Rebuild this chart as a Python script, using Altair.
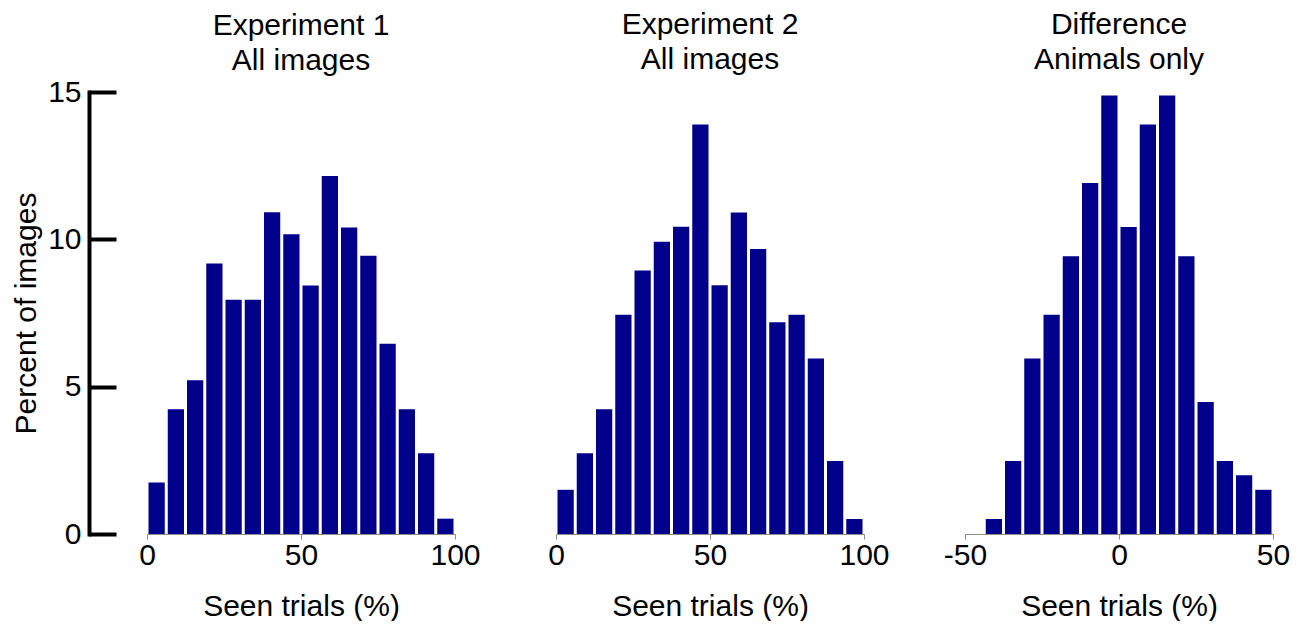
import altair as alt
import pandas as pd

# Bin edges (Seen trials %, 16 bins each)
exp_bin_start = [0, 6.25, 12.5, 18.75, 25, 31.25, 37.5, 43.75, 50, 56.25, 62.5, 68.75, 75, 81.25, 87.5, 93.75]
exp_bin_end = [6.25, 12.5, 18.75, 25, 31.25, 37.5, 43.75, 50, 56.25, 62.5, 68.75, 75, 81.25, 87.5, 93.75, 100]
diff_bin_start = [-50, -43.75, -37.5, -31.25, -25, -18.75, -12.5, -6.25, 0, 6.25, 12.5, 18.75, 25, 31.25, 37.5, 43.75]
diff_bin_end = [-43.75, -37.5, -31.25, -25, -18.75, -12.5, -6.25, 0, 6.25, 12.5, 18.75, 25, 31.25, 37.5, 43.75, 50]

# Percent of images per bin
exp1_pct = [1.75, 4.23, 5.22, 9.18, 7.95, 7.95, 10.92, 10.17, 8.43, 12.15, 10.40, 9.44, 6.46, 4.23, 2.74, 0.52]
exp2_pct = [1.50, 2.74, 4.23, 7.44, 8.94, 9.92, 10.43, 13.90, 8.44, 10.91, 9.67, 7.19, 7.44, 5.96, 2.48, 0.51]
diff_pct = [0.0, 0.51, 2.48, 5.96, 7.44, 9.43, 11.91, 14.88, 10.42, 13.90, 14.88, 9.43, 4.48, 2.48, 1.99, 1.50]

titles = [["Experiment 1", "All images"], ["Experiment 2", "All images"], ["Difference", "Animals only"]]
x_domains = [[0, 100], [0, 100], [-50, 50]]
x_ticks = [[0, 50, 100], [0, 50, 100], [-50, 0, 50]]

FONT = "Liberation Sans"
BAR = "#00008b"
W, H = 308, 442


def panel(starts, ends, pct, title, xdom, xticks, first):
    df = pd.DataFrame({"start": starts, "end": ends, "pct": pct})
    if first:
        yaxis = alt.Axis(
            orient="right", offset=-(W + 58), values=[0, 5, 10, 15],
            tickSize=27, tickWidth=4, tickColor="black",
            domainWidth=4, domainColor="black", domainCap="square",
            labelAlign="right", labelPadding=-35, labelBaseline="middle",
            labelFontSize=30, labelFlush=False, grid=False,
            title="Percent of images", titleAngle=270, titleX=-54, titleY=H / 2,
            titleAlign="center", titleBaseline="alphabetic", titleFontSize=30,
            titleFontWeight="normal", titleFont=FONT, labelFont=FONT,
        )
        toff = 1
    else:
        yaxis = None
        toff = 17
    return alt.Chart(df).mark_rect(color=BAR, xOffset=1.5, x2Offset=-1.5).encode(
        x=alt.X("start:Q", scale=alt.Scale(domain=xdom, nice=False, zero=False),
                axis=alt.Axis(values=xticks, title="Seen trials (%)", tickSize=5,
                              tickColor="#8c8c8c", domainColor="#8c8c8c", domainWidth=1,
                              labelFontSize=30, titleFontSize=30, labelPadding=1,
                              titlePadding=21, labelFlush=False, grid=False,
                              labelExpr="'' + datum.value",
                              titleFontWeight="normal", titleFont=FONT, labelFont=FONT)),
        x2="end:Q",
        y=alt.Y("pct:Q", scale=alt.Scale(domain=[0, 15], nice=False), axis=yaxis),
        y2=alt.datum(0),
    ).properties(
        width=W, height=H,
        title=alt.TitleParams(text=title, anchor="middle", fontSize=30, font=FONT,
                              fontWeight="normal", lineHeight=35, offset=toff, color="black"),
    )


p1 = panel(exp_bin_start, exp_bin_end, exp1_pct, titles[0], x_domains[0], x_ticks[0], True)
p2 = panel(exp_bin_start, exp_bin_end, exp2_pct, titles[1], x_domains[1], x_ticks[1], False)
p3 = panel(diff_bin_start, diff_bin_end, diff_pct, titles[2], x_domains[2], x_ticks[2], False)

chart = alt.hconcat(p1, p2, p3, spacing=101, bounds="flush").properties(
    padding={"left": 3, "top": 2, "right": 0, "bottom": 0},
    background="white",
).configure_view(strokeWidth=0, stroke="transparent").configure_axis(
    labelFont=FONT, titleFont=FONT, labelColor="black", titleColor="black",
    titleFontWeight="normal",
)

chart.save("out.html", embed_options={"renderer": "svg", "actions": False})
